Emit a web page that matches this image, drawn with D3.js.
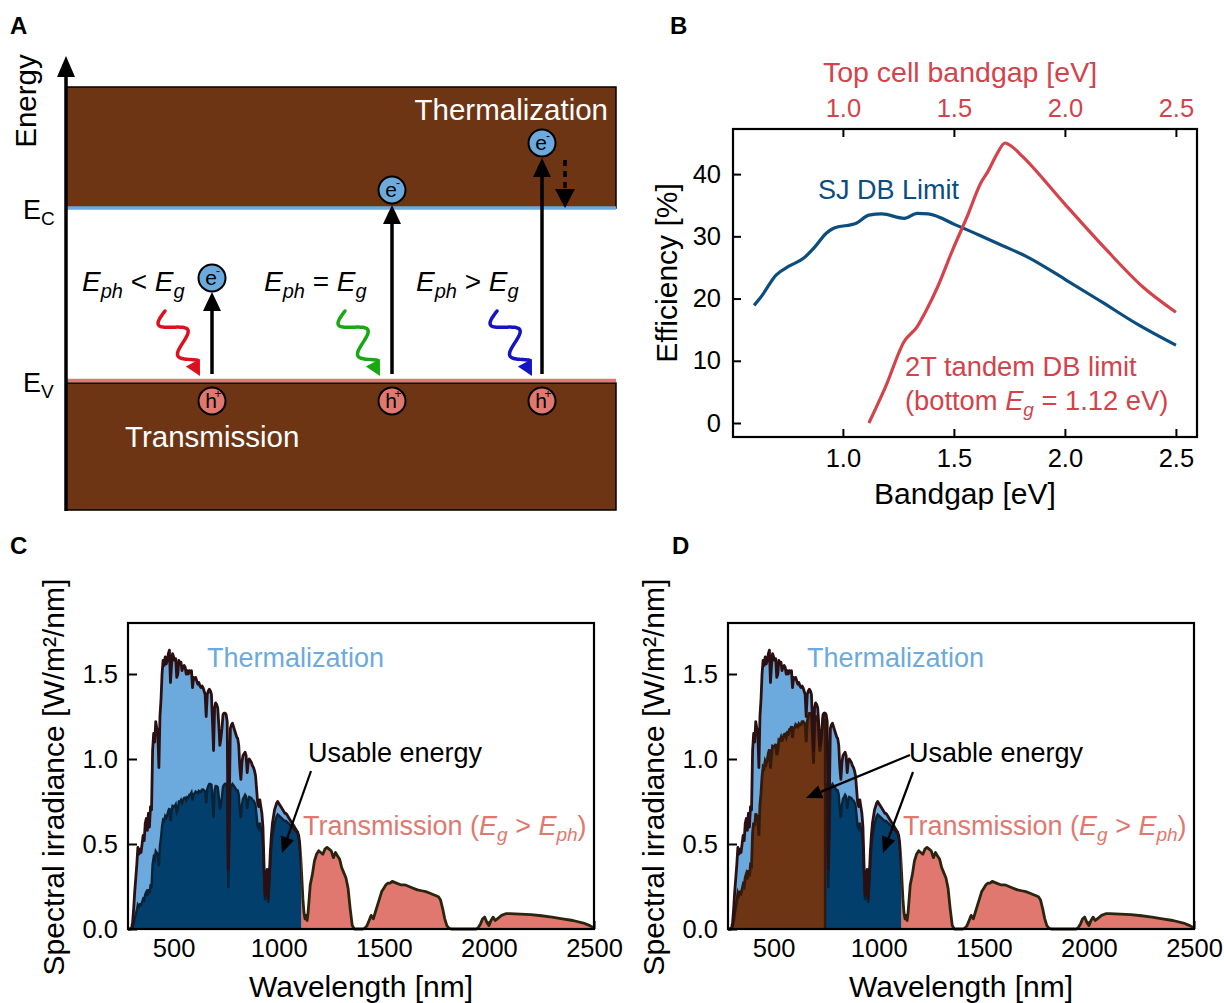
<!DOCTYPE html>
<html>
<head>
<meta charset="utf-8">
<script src="https://cdn.jsdelivr.net/npm/d3@7"></script>
<style>
  body { margin: 0; background: #fff; }
  svg { display: block; }
  text { font-family: "Liberation Sans", Arial, Helvetica, sans-serif; }
</style>
</head>
<body>
<svg id="fig" width="1224" height="1003"></svg>
<script>
// ---------- Panel B: detailed-balance efficiency limits ----------
const sjBandgapEV = [0.60, 0.63, 0.70, 0.757, 0.824, 0.874, 0.925, 0.958, 1.06, 1.117, 1.176, 1.276, 1.335, 1.385, 1.51, 1.62, 1.72, 1.83, 2.0, 2.164, 2.33, 2.50];
const sjEfficiency = [18.9, 20.2, 23.8, 25.2, 26.5, 28.3, 30.5, 31.3, 32.1, 33.4, 33.6, 32.9, 33.7, 33.6, 31.8, 30.1, 28.5, 26.7, 23.1, 19.5, 15.8, 12.5];

const topGapEV = [1.117, 1.193, 1.276, 1.335, 1.377, 1.427, 1.494, 1.56, 1.62, 1.653, 1.695, 1.73, 1.762, 1.81, 1.997, 2.18, 2.35, 2.50];
const tandemEfficiency = [0.0, 5.9, 13.1, 15.5, 18.2, 21.9, 27.8, 33.2, 38.5, 40.4, 43.3, 45.0, 44.4, 42.8, 35.3, 28.1, 21.9, 17.8];

const bandgapTicks = [1.0, 1.5, 2.0, 2.5];
const efficiencyTicks = [0, 10, 20, 30, 40];

// ---------- Panels C/D: AM1.5G spectral irradiance ----------
const wavelengthNm = [
  280, 290, 295, 300, 305, 310, 315, 320, 325, 330, 335, 340, 345, 350, 355, 360, 365, 370, 375, 380,
  385, 390, 395, 400, 405, 410, 415, 420, 425, 430, 435, 440, 445, 450, 455, 460, 465, 470, 475, 480,
  485, 490, 495, 500, 505, 510, 515, 520, 525, 530, 535, 540, 545, 550, 555, 560, 565, 570, 575, 580,
  585, 590, 595, 600, 605, 610, 615, 620, 625, 630, 635, 640, 645, 650, 655, 660, 665, 670, 675, 680,
  685, 690, 695, 700, 705, 710, 715, 720, 725, 730, 735, 740, 745, 750, 755, 760, 765, 770, 775, 780,
  785, 790, 795, 800, 805, 810, 815, 820, 825, 830, 835, 840, 845, 850, 855, 860, 865, 870, 875, 880,
  885, 890, 895, 900, 905, 910, 915, 920, 925, 930, 935, 940, 945, 950, 955, 960, 965, 970, 975, 980,
  985, 990, 995, 1000, 1005, 1010, 1015, 1020, 1025, 1030, 1035, 1040, 1045, 1050, 1055, 1060, 1065, 1070, 1075, 1080,
  1085, 1090, 1095, 1100, 1105, 1110, 1115, 1120, 1125, 1130, 1135, 1140, 1145, 1150, 1160, 1170, 1180, 1190, 1200, 1210,
  1220, 1230, 1240, 1250, 1260, 1270, 1280, 1290, 1300, 1310, 1320, 1330, 1340, 1350, 1360, 1400, 1410, 1420, 1430, 1440,
  1450, 1460, 1470, 1480, 1490, 1500, 1510, 1520, 1530, 1540, 1560, 1580, 1600, 1620, 1640, 1660, 1680, 1700, 1720, 1740,
  1760, 1770, 1780, 1790, 1800, 1810, 1820, 1940, 1950, 1960, 1970, 1980, 1990, 2000, 2010, 2020, 2030, 2040, 2060, 2080,
  2100, 2150, 2200, 2250, 2300, 2350, 2400, 2450, 2480, 2500
];
const irradiance = [
  0.0, 0.0, 0.0001, 0.005, 0.04, 0.12, 0.22, 0.30, 0.38, 0.48, 0.44, 0.47, 0.45, 0.50, 0.55, 0.52, 0.62, 0.65, 0.58, 0.68,
  0.60, 0.72, 0.70, 1.05, 1.15, 1.10, 1.22, 1.18, 1.15, 0.95, 1.25, 1.35, 1.50, 1.58, 1.55, 1.60, 1.56, 1.58, 1.62, 1.64,
  1.45, 1.55, 1.62, 1.60, 1.58, 1.59, 1.48, 1.50, 1.58, 1.56, 1.57, 1.52, 1.54, 1.55, 1.54, 1.50, 1.52, 1.50, 1.52, 1.51,
  1.52, 1.42, 1.48, 1.47, 1.48, 1.46, 1.44, 1.45, 1.43, 1.42, 1.43, 1.42, 1.40, 1.38, 1.25, 1.38, 1.40, 1.41, 1.40, 1.38,
  1.22, 1.05, 1.30, 1.33, 1.32, 1.30, 1.20, 1.08, 1.12, 1.18, 1.26, 1.27, 1.27, 1.26, 1.22, 0.35, 0.75, 1.18, 1.20, 1.21,
  1.19, 1.17, 1.15, 1.13, 1.12, 1.08, 0.95, 0.88, 0.98, 1.02, 1.03, 1.04, 1.02, 0.92, 0.98, 1.00, 0.99, 0.98, 0.96, 0.95,
  0.93, 0.90, 0.82, 0.74, 0.72, 0.76, 0.72, 0.68, 0.60, 0.38, 0.20, 0.28, 0.35, 0.18, 0.30, 0.45, 0.55, 0.62, 0.66, 0.70,
  0.72, 0.74, 0.75, 0.74, 0.73, 0.72, 0.71, 0.70, 0.69, 0.68, 0.68, 0.67, 0.66, 0.65, 0.64, 0.63, 0.62, 0.61, 0.60, 0.59,
  0.58, 0.57, 0.55, 0.50, 0.42, 0.30, 0.18, 0.10, 0.06, 0.08, 0.05, 0.10, 0.18, 0.26, 0.32, 0.40, 0.44, 0.46, 0.45, 0.44,
  0.47, 0.48, 0.47, 0.46, 0.42, 0.45, 0.43, 0.41, 0.36, 0.33, 0.30, 0.24, 0.12, 0.02, 0.0, 0.0, 0.005, 0.02, 0.05, 0.08,
  0.06, 0.10, 0.14, 0.18, 0.22, 0.24, 0.26, 0.27, 0.27, 0.28, 0.27, 0.26, 0.26, 0.25, 0.24, 0.23, 0.225, 0.22, 0.21, 0.20,
  0.19, 0.17, 0.12, 0.06, 0.02, 0.005, 0.0, 0.0, 0.01, 0.03, 0.06, 0.07, 0.04, 0.02, 0.05, 0.07, 0.05, 0.06, 0.08, 0.09,
  0.09, 0.088, 0.085, 0.078, 0.07, 0.06, 0.05, 0.035, 0.02, 0.005
];
const siBandgapNm = 1107;       // bottom cell, Eg = 1.12 eV
const topCellBandgapNm = 745;   // top cell of the tandem
const wavelengthTicks = [500, 1000, 1500, 2000, 2500];
const irradianceTicks = [0.0, 0.5, 1.0, 1.5];

// ---------- palette ----------
const C = {
  brown: "#6e3515", ltBlue: "#6caadd", dkBlue: "#023f6d", pink: "#e07870",
  red: "#d2434c", sjBlue: "#0b4d7f",
  edgeTop: "#2a1012", edgePink: "#2b2510", edgeUsable: "#0a2236", edgeBrown: "#331a0c"
};
const svg = d3.select("#fig");
const defs = svg.append("defs");

function panelLabel(x, y, s) {
  svg.append("text").attr("x", x).attr("y", y).attr("font-size", 24).attr("font-weight", "bold").text(s);
}
panelLabel(10, 34, "A");
panelLabel(670, 34, "B");
panelLabel(10, 554, "C");
panelLabel(672, 554, "D");

// ================= Panel A: band diagram =================
(function () {
  const g = svg.append("g");
  const L = 66, R = 616;
  // conduction band block
  g.append("rect").attr("x", L).attr("y", 87).attr("width", R - L).attr("height", 121)
    .attr("fill", C.brown).attr("stroke", "#000").attr("stroke-width", 1.5);
  // valence band block
  g.append("rect").attr("x", L).attr("y", 383).attr("width", R - L).attr("height", 127)
    .attr("fill", C.brown).attr("stroke", "#000").attr("stroke-width", 1.5);
  // band edges
  g.append("line").attr("x1", L).attr("x2", R).attr("y1", 208).attr("y2", 208)
    .attr("stroke", C.ltBlue).attr("stroke-width", 3.5);
  g.append("line").attr("x1", L).attr("x2", R).attr("y1", 380.5).attr("y2", 380.5)
    .attr("stroke", C.pink).attr("stroke-width", 3.5);
  // energy axis
  g.append("line").attr("x1", L).attr("x2", L).attr("y1", 511).attr("y2", 70)
    .attr("stroke", "#000").attr("stroke-width", 3.5);
  g.append("path").attr("d", `M${L},56L${L - 9},77L${L + 9},77Z`).attr("fill", "#000");
  g.append("text").attr("transform", "translate(36,101) rotate(-90)").attr("text-anchor", "middle")
    .attr("font-size", 29.5).text("Energy");

  const lvl = (y, sub) => {
    const t = g.append("text").attr("x", 23).attr("y", y).attr("font-size", 27);
    t.append("tspan").text("E");
    t.append("tspan").attr("font-size", 19).attr("dy", 6).text(sub);
  };
  lvl(219, "C");
  lvl(392, "V");

  g.append("text").attr("x", 608).attr("y", 120).attr("text-anchor", "end")
    .attr("font-size", 29.5).attr("fill", "#fff").text("Thermalization");
  g.append("text").attr("x", 125).attr("y", 447)
    .attr("font-size", 29.5).attr("fill", "#fff").text("Transmission");

  const cond = (x, y, rel) => {
    const t = g.append("text").attr("x", x).attr("y", y).attr("font-size", 28).attr("font-style", "italic");
    t.append("tspan").text("E");
    t.append("tspan").attr("font-size", 20).attr("dy", 7).text("ph");
    t.append("tspan").attr("dy", -7).attr("font-style", "normal").text(" " + rel + " ");
    t.append("tspan").text("E");
    t.append("tspan").attr("font-size", 20).attr("dy", 7).text("g");
  };
  cond(82, 291, "<");
  cond(264, 291, "=");
  cond(416, 291, ">");

  const upArrow = (x, yTop) => {
    g.append("line").attr("x1", x).attr("x2", x).attr("y1", 374).attr("y2", yTop + 14)
      .attr("stroke", "#000").attr("stroke-width", 3.5);
    g.append("path").attr("d", `M${x},${yTop}L${x - 9},${yTop + 19}L${x + 9},${yTop + 19}Z`).attr("fill", "#000");
  };
  upArrow(212, 292);
  upArrow(392, 205);
  upArrow(542, 158);

  // relaxation (dashed) arrow
  g.append("line").attr("x1", 565).attr("x2", 565).attr("y1", 160).attr("y2", 189)
    .attr("stroke", "#000").attr("stroke-width", 3.5).attr("stroke-dasharray", "6,5");
  g.append("path").attr("d", "M565,208L555,189L575,189Z").attr("fill", "#000");

  const carrier = (x, y, fill, s, sup) => {
    g.append("circle").attr("cx", x).attr("cy", y).attr("r", 13.5)
      .attr("fill", fill).attr("stroke", "#000").attr("stroke-width", 2);
    g.append("text").attr("x", x - 1).attr("y", y + 7).attr("text-anchor", "middle")
      .attr("font-size", 21).attr("fill", "#000").text(s);
    g.append("text").attr("x", x + 6).attr("y", y - 3).attr("text-anchor", "middle")
      .attr("font-size", 12).attr("fill", "#000").text(sup);
  };
  carrier(212, 278, C.ltBlue, "e", "-");
  carrier(392, 190, C.ltBlue, "e", "-");
  carrier(542, 143, C.ltBlue, "e", "-");
  carrier(212, 401, C.pink, "h", "+");
  carrier(392, 401, C.pink, "h", "+");
  carrier(542, 401, C.pink, "h", "+");

  // incoming photons
  const photon = (x0, y0, x1, y1, color) => {
    const dx = x1 - x0, dy = y1 - y0, len = Math.hypot(dx, dy);
    const ux = dx / len, uy = dy / len, px = -uy, py = ux;
    const head = 15, body = len - head;
    const pts = d3.range(0, 81).map(i => {
      const t = i / 80, s = t * body;
      const a = 13 * Math.sin(t * Math.PI * 3.2) * (1 - 0.3 * t);
      return [x0 + ux * s + px * a, y0 + uy * s + py * a];
    });
    g.append("path").attr("d", d3.line().curve(d3.curveBasis)(pts))
      .attr("fill", "none").attr("stroke", color).attr("stroke-width", 3.5).attr("stroke-linecap", "round");
    const bx = x1 - ux * head, by = y1 - uy * head;
    g.append("path").attr("d", `M${x1},${y1}L${bx + px * 8},${by + py * 8}L${bx - px * 8},${by - py * 8}Z`)
      .attr("fill", color);
  };
  photon(165, 311, 200, 376, "#dd1020");
  photon(345, 311, 380, 376, "#18a812");
  photon(497, 311, 532, 376, "#1414c0");
})();

// ================= Panel B: efficiency vs bandgap =================
(function () {
  const left = 733, right = 1197, top = 129, bottom = 437;
  const x = d3.scaleLinear().domain([0.505, 2.595]).range([left, right]);
  const y = d3.scaleLinear().domain([-2.25, 47.25]).range([bottom, top]);
  const g = svg.append("g");

  const xb = g.append("g").attr("transform", `translate(0,${bottom})`)
    .call(d3.axisBottom(x).tickValues(bandgapTicks).tickFormat(d3.format(".1f")).tickSize(-8).tickPadding(12));
  const xt = g.append("g").attr("transform", `translate(0,${top})`)
    .call(d3.axisTop(x).tickValues(bandgapTicks).tickFormat(d3.format(".1f")).tickSize(-8).tickPadding(12));
  const yl = g.append("g").attr("transform", `translate(${left},0)`)
    .call(d3.axisLeft(y).tickValues(efficiencyTicks).tickSize(-8).tickPadding(12));
  [xb, xt, yl].forEach(a => {
    a.select(".domain").remove();
    a.selectAll("line").attr("stroke", "#000").attr("stroke-width", 2);
    a.selectAll("text").attr("font-size", 25.5).attr("font-family", "Liberation Sans, Arial, sans-serif").attr("fill", "#000");
  });
  xt.selectAll("text").attr("fill", C.red);

  g.append("rect").attr("x", left).attr("y", top).attr("width", right - left).attr("height", bottom - top)
    .attr("fill", "none").attr("stroke", "#000").attr("stroke-width", 2.2);

  const line = d3.line().x(d => x(d[0])).y(d => y(d[1])).curve(d3.curveMonotoneX);
  g.append("path").attr("d", line(d3.zip(sjBandgapEV, sjEfficiency)))
    .attr("fill", "none").attr("stroke", C.sjBlue).attr("stroke-width", 3.2).attr("stroke-linejoin", "round");
  g.append("path").attr("d", line(d3.zip(topGapEV, tandemEfficiency)))
    .attr("fill", "none").attr("stroke", C.red).attr("stroke-width", 3.2).attr("stroke-linejoin", "round");

  g.append("text").attr("x", (left + right) / 2).attr("y", 504).attr("text-anchor", "middle")
    .attr("font-size", 30).text("Bandgap [eV]");
  g.append("text").attr("x", 960).attr("y", 82).attr("text-anchor", "middle")
    .attr("font-size", 28.5).attr("fill", C.red).text("Top cell bandgap [eV]");
  g.append("text").attr("transform", `translate(677,${(top + bottom) / 2 - 10}) rotate(-90)`).attr("text-anchor", "middle")
    .attr("font-size", 30).text("Efficiency [%]");

  g.append("text").attr("x", 818).attr("y", 199).attr("font-size", 27).attr("fill", C.sjBlue).text("SJ DB Limit");
  g.append("text").attr("x", 905).attr("y", 376).attr("font-size", 27.3).attr("fill", C.red).text("2T tandem DB limit");
  const t = g.append("text").attr("x", 905).attr("y", 410).attr("font-size", 27.3).attr("fill", C.red);
  t.append("tspan").text("(bottom ");
  t.append("tspan").attr("font-style", "italic").text("E");
  t.append("tspan").attr("font-style", "italic").attr("font-size", 19).attr("dy", 6).text("g");
  t.append("tspan").attr("dy", -6).text(" = 1.12 eV)");
})();

// ================= Panels C & D: spectrum splits =================
const spectrum = wavelengthNm.map((w, i) => ({ w, v: irradiance[i] }));

function spectrumPanel(ox, tandem) {
  const left = 128 + ox, right = 594 + ox, top = 623, bottom = 929;
  const x = d3.scaleLinear().domain([283, 2500]).range([left, right]);
  const y = d3.scaleLinear().domain([0, 1.8]).range([bottom, top]);
  const g = svg.append("g");
  const id = tandem ? "d" : "c";

  const clip = (name, w0, w1) => {
    defs.append("clipPath").attr("id", `${id}-${name}`).append("rect")
      .attr("x", x(w0)).attr("y", top).attr("width", x(w1) - x(w0)).attr("height", bottom - top + 2);
    return `url(#${id}-${name})`;
  };
  const clipAbove = clip("above", 283, siBandgapNm);
  const clipBelow = clip("below", siBandgapNm, 2500);
  const clipBottomCell = clip("bottomcell", tandem ? topCellBandgapNm : 283, siBandgapNm);
  const clipTopCell = clip("topcell", 283, topCellBandgapNm);

  // inward ticks (drawn first so the fills sit above them)
  const xa = g.append("g").attr("transform", `translate(0,${bottom})`)
    .call(d3.axisBottom(x).tickValues(wavelengthTicks).tickFormat(d3.format("d")).tickSize(-8).tickPadding(10));
  const ya = g.append("g").attr("transform", `translate(${left},0)`)
    .call(d3.axisLeft(y).tickValues(irradianceTicks).tickFormat(d3.format(".1f")).tickSize(-9).tickPadding(10));
  [xa, ya].forEach(a => {
    a.select(".domain").remove();
    a.selectAll("line").attr("stroke", "#000").attr("stroke-width", 2);
    a.selectAll("text").attr("font-size", 25.5).attr("font-family", "Liberation Sans, Arial, sans-serif").attr("fill", "#000");
  });

  const area = acc => d3.area().x(d => x(d.w)).y0(y(0)).y1(d => y(acc(d)));
  const line = acc => d3.line().x(d => x(d.w)).y(d => y(acc(d)));
  const full = d => d.v;
  const bottomUsable = d => d.v * d.w / siBandgapNm;
  const topUsable = d => d.v * d.w / topCellBandgapNm;

  g.append("path").attr("d", area(full)(spectrum)).attr("fill", C.ltBlue).attr("clip-path", clipAbove);
  g.append("path").attr("d", area(full)(spectrum)).attr("fill", C.pink).attr("clip-path", clipBelow);
  g.append("path").attr("d", area(bottomUsable)(spectrum)).attr("fill", C.dkBlue).attr("clip-path", clipBottomCell);
  g.append("path").attr("d", line(bottomUsable)(spectrum)).attr("fill", "none")
    .attr("stroke", C.edgeUsable).attr("stroke-width", 2.4).attr("clip-path", clipBottomCell);
  if (tandem) {
    g.append("path").attr("d", area(topUsable)(spectrum)).attr("fill", C.brown).attr("clip-path", clipTopCell);
    g.append("path").attr("d", line(topUsable)(spectrum)).attr("fill", "none")
      .attr("stroke", C.edgeBrown).attr("stroke-width", 2.8).attr("clip-path", clipTopCell);
    const edgeY = topUsable({ w: topCellBandgapNm, v: 1.24 });
    g.append("line").attr("x1", x(topCellBandgapNm)).attr("x2", x(topCellBandgapNm))
      .attr("y1", y(0)).attr("y2", y(edgeY)).attr("stroke", C.edgeBrown).attr("stroke-width", 2.5);
  }
  g.append("path").attr("d", line(full)(spectrum)).attr("fill", "none")
    .attr("stroke", C.edgeTop).attr("stroke-width", 2.8).attr("stroke-linejoin", "round").attr("clip-path", clipAbove);
  g.append("path").attr("d", line(full)(spectrum)).attr("fill", "none")
    .attr("stroke", C.edgePink).attr("stroke-width", 2.8).attr("stroke-linejoin", "round").attr("clip-path", clipBelow);

  g.append("rect").attr("x", left).attr("y", top).attr("width", right - left).attr("height", bottom - top)
    .attr("fill", "none").attr("stroke", "#000").attr("stroke-width", 2.2);

  // titles
  g.append("text").attr("x", (left + right) / 2).attr("y", 997).attr("text-anchor", "middle")
    .attr("font-size", 30).text("Wavelength [nm]");
  g.append("text").attr("transform", `translate(${64 + ox},${(top + bottom) / 2 + 1}) rotate(-90)`)
    .attr("text-anchor", "middle").attr("font-size", 30).text("Spectral irradiance [W/m\u00B2/nm]");

  // annotations
  g.append("text").attr("x", 207 + ox).attr("y", 667).attr("font-size", 27).attr("fill", C.ltBlue).text("Thermalization");
  const tr = g.append("text").attr("x", 303 + ox).attr("y", 835).attr("font-size", 27).attr("fill", C.pink);
  tr.append("tspan").text("Transmission (");
  tr.append("tspan").attr("font-style", "italic").text("E");
  tr.append("tspan").attr("font-style", "italic").attr("font-size", 19).attr("dy", 6).text("g");
  tr.append("tspan").attr("dy", -6).text(" > ");
  tr.append("tspan").attr("font-style", "italic").text("E");
  tr.append("tspan").attr("font-style", "italic").attr("font-size", 19).attr("dy", 6).text("ph");
  tr.append("tspan").attr("dy", -6).text(")");

  g.append("text").attr("x", (tandem ? 909 : 308)).attr("y", 762).attr("font-size", 27).text("Usable energy");
  const pointer = (x0, y0, x1, y1) => {
    const dx = x1 - x0, dy = y1 - y0, len = Math.hypot(dx, dy);
    const ux = dx / len, uy = dy / len, px = -uy, py = ux, h = 16;
    const bx = x1 - ux * h, by = y1 - uy * h;
    g.append("line").attr("x1", x0).attr("y1", y0).attr("x2", bx).attr("y2", by)
      .attr("stroke", "#000").attr("stroke-width", 2.2);
    g.append("path").attr("d", `M${x1},${y1}L${bx + px * 7},${by + py * 7}L${bx - px * 7},${by - py * 7}Z`).attr("fill", "#000");
  };
  if (tandem) {
    pointer(910, 755, 806, 798);
    pointer(913, 772, 883, 853);
  } else {
    pointer(311, 771, 282, 853);
  }
}
spectrumPanel(0, false);
spectrumPanel(600, true);
</script>
</body>
</html>
